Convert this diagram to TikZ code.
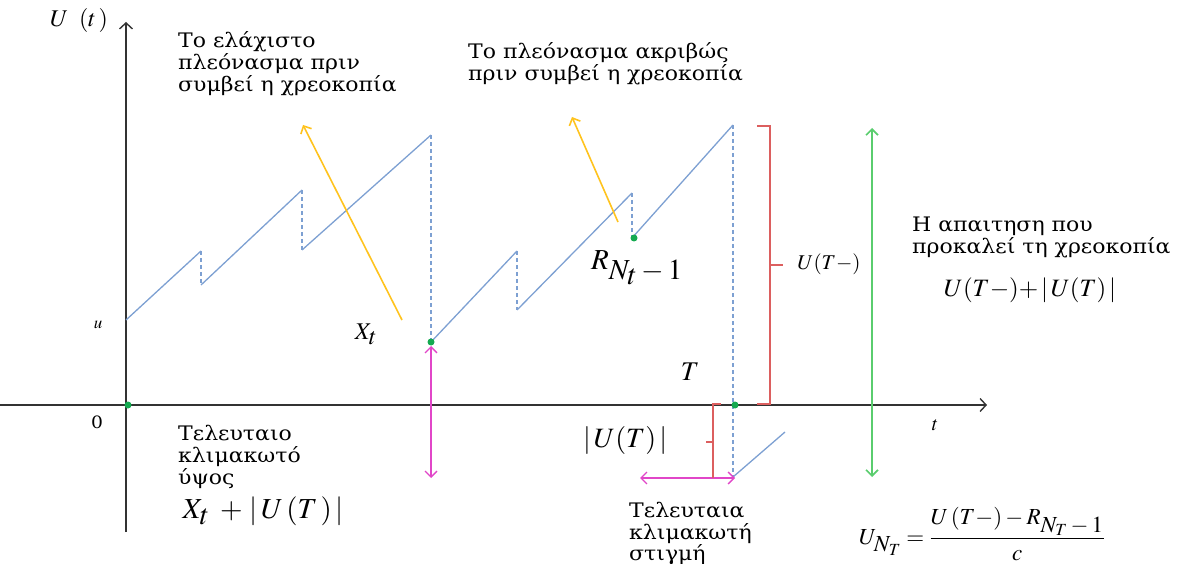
\documentclass[tikz,border=0pt]{standalone}
\usepackage{amsmath}
\usepackage{mathptmx}
\usepackage[no-math]{fontspec}
\setmainfont{DejaVu Serif}[FakeStretch=1.1]
\usetikzlibrary{arrows.meta}
\definecolor{cblue}{RGB}{125,160,210}
\definecolor{cyellow}{RGB}{255,195,30}
\definecolor{cmag}{RGB}{225,70,200}
\definecolor{cred}{RGB}{220,95,95}
\definecolor{cgreen}{RGB}{90,205,110}
\definecolor{cdot}{RGB}{20,170,80}
\newcommand{\bs}[1]{_{\textstyle #1}}
\begin{document}
\begin{tikzpicture}[x=1pt,y=-1pt,
  lbl/.style={inner sep=0pt, align=left, anchor=north west, font=\fontsize{20}{22}\selectfont},
  mth/.style={inner sep=0pt, font=\fontsize{18}{22}\selectfont},
  curve/.style={cblue, line width=1.3pt},
  jump/.style={cblue, line width=1.3pt, dash pattern=on 4pt off 3pt},
  axis/.style={line width=1.4pt, black!80, -{Straight Barb[length=6pt,width=13pt]}},
  dot/.style={circle, fill=cdot, inner sep=0pt, minimum size=7pt},
  yarrow/.style={cyellow, line width=1.6pt, -{Straight Barb[length=6pt,width=12pt]}},
  marrow/.style={cmag, line width=1.4pt, {Straight Barb[length=6pt,width=12pt]}-{Straight Barb[length=6pt,width=12pt]}},
  garrow/.style={cgreen, line width=1.6pt, {Straight Barb[length=6pt,width=12pt]}-{Straight Barb[length=6pt,width=12pt]}},
  brace/.style={cred, line width=2pt}
]
\useasboundingbox (0,0) rectangle (1181,564);

% axes
\coordinate (ybot) at (126,532);
\coordinate (ytop) at (126,22);
\coordinate (xl) at (0,405);
\coordinate (xr) at (987,405);
\draw[axis] (ybot) -- (ytop);
\draw[axis] (xl) -- (xr);

% surplus path
\coordinate (p0) at (126,320);
\coordinate (p1) at (201,251);
\coordinate (q1) at (201,285);
\coordinate (p2) at (302,190);
\coordinate (q2) at (302,250);
\coordinate (p3) at (431,135);
\coordinate (q3) at (431,342);
\coordinate (p4) at (517,251);
\coordinate (q4) at (517,310);
\coordinate (p5) at (632,193);
\coordinate (q5) at (632,238);
\coordinate (p6) at (733,125);
\coordinate (q6) at (733,477);
\coordinate (p7) at (785,432);
\draw[curve] (p0) -- (p1);
\draw[jump] (p1) -- (q1);
\draw[curve] (q1) -- (p2);
\draw[jump] (p2) -- (q2);
\draw[curve] (q2) -- (p3);
\draw[jump] (p3) -- (q3);
\draw[curve] (q3) -- (p4);
\draw[jump] (p4) -- (q4);
\draw[curve] (q4) -- (p5);
\draw[jump] (p5) -- (q5);
\draw[curve] (q5) -- (p6);
\draw[jump] (p6) -- (q6);
\draw[curve] (q6) -- (p7);

% yellow arrows
\coordinate (y1s) at (402,320);
\coordinate (y1e) at (303,125);
\coordinate (y2s) at (618,222);
\coordinate (y2e) at (572,117);
\draw[yarrow] (y1s) -- (y1e);
\draw[yarrow] (y2s) -- (y2e);

% magenta arrows
\coordinate (m1a) at (431,346);
\coordinate (m1b) at (431,478);
\coordinate (m2a) at (640,478);
\coordinate (m2b) at (735,478);
\draw[marrow] (m1a) -- (m1b);
\draw[marrow] (m2a) -- (m2b);

% red braces
\coordinate (r1a) at (757,126);
\coordinate (r1b) at (770,126);
\coordinate (r1c) at (770,404);
\coordinate (r1d) at (757,404);
\coordinate (r1m) at (770,265);
\coordinate (r1t) at (783,265);
\draw[brace] (r1a) -- (r1b) -- (r1c) -- (r1d);
\draw[brace] (r1m) -- (r1t);
\coordinate (r2a) at (721,404);
\coordinate (r2b) at (713,404);
\coordinate (r2c) at (713,478);
\coordinate (r2m) at (713,442);
\coordinate (r2t) at (706,442);
\draw[brace] (r2a) -- (r2b) -- (r2c);
\draw[brace] (r2m) -- (r2t);

% green arrow
\coordinate (g1) at (872,128);
\coordinate (g2) at (872,477);
\draw[garrow] (g1) -- (g2);

% dots
\node[dot] (d0) at (128,405) {};
\node[dot] (dX) at (431,342) {};
\node[dot] (dR) at (634,238) {};
\node[dot] (dT) at (735,405) {};

% axis labels
\node[mth, font=\fontsize{24}{28}\selectfont] (Ut) at (79,21) {$U\;\;(t\,)$};
\node[mth, font=\fontsize{17}{20}\selectfont] (zero) at (97,422) {0};
\node[mth, font=\fontsize{17}{20}\selectfont] (u) at (98,325) {$u$};
\node[mth, font=\fontsize{20}{24}\selectfont] (t) at (935,425) {$t$};

% texts
\node[lbl] (tmin) at (178,31) {Το ελάχιστο\\πλεόνασμα πριν\\συμβεί η χρεοκοπία};
\node[lbl] (tacc) at (468,42) {Το πλεόνασμα ακριβώς\\πριν συμβεί η χρεοκοπία};
\node[lbl] (tclaim) at (912,217) {Η απαιτηση που\\προκαλεί τη χρεοκοπία};
\node[mth, font=\fontsize{25}{28}\selectfont] (claimf) at (1030,290) {$U(T{-}){+}\,|\,U(T)\,|$};
\node[mth, font=\fontsize{24}{28}\selectfont] (Xt) at (366,334) {$X\bs{t}$};
\node[mth, font=\fontsize{29}{32}\selectfont] (RN) at (637,268) {$R\bs{N\bs{t}-1}$};
\node[mth, font=\fontsize{27}{32}\selectfont] (T) at (690,372) {$T$};
\node[mth, font=\fontsize{21}{24}\selectfont] (UTm) at (829,264) {$U(T{-})$};
\node[mth, font=\fontsize{28}{30}\selectfont] (absUT) at (625,440) {$|\,U(T)\,|$};
\node[lbl] (tlast) at (178,425) {Τελευταιο\\κλιμακωτό\\ύψος};
\node[mth, font=\fontsize{29}{32}\selectfont] (lastf) at (263,511) {$X\bs{t}\;+\,|\,U\,(T\,)\,|$};
\node[lbl, font=\fontsize{20}{21.5}\selectfont] (tstep) at (629,502) {Τελευταια\\κλιμακωτή\\στιγμή};
\node[mth, font=\fontsize{23}{26}\selectfont] (UNT) at (982,534) {$U\bs{N_T}=\dfrac{U\,(T{-})-R\bs{N_T-1}}{c}$};
\end{tikzpicture}
\end{document}
